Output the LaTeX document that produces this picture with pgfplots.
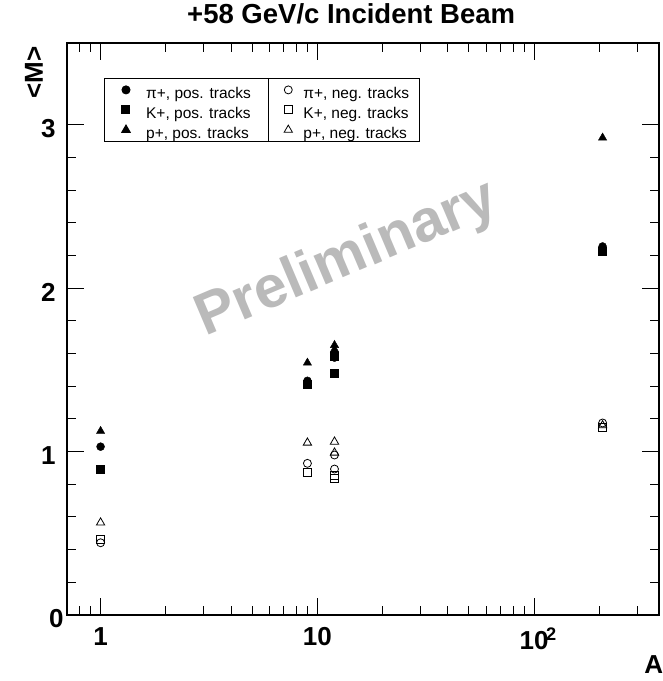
\documentclass[border=0pt]{standalone}
\usepackage{fontspec}
\setmainfont{Liberation Sans}
\usepackage{pgfplots}
\pgfplotsset{compat=1.18}
\begin{document}
\begin{tikzpicture}[x=1pt,y=1pt]
\useasboundingbox (0,0) rectangle (663,681);
\begin{axis}[
  at={(67pt,66pt)}, anchor=south west,
  scale only axis, width=592pt, height=572pt,
  xmode=log, log basis x=10,
  xmin=0.7, xmax=377, ymin=0, ymax=3.5,
  xtick={1,10,100}, xticklabels={1,10,10\rlap{\kern-2.5pt\textsuperscript{2}}},
  minor xtick={0.8,0.9,2,3,4,5,6,7,8,9,20,30,40,50,60,70,80,90,200,300},
  ytick={0,1,2,3}, yticklabels={0\hspace*{-8pt},1,2,3}, minor y tick num=4,
  tick align=inside,
  major tick length=17pt, minor tick length=9pt,
  every tick/.style={black, line width=1pt},
  axis line style={line width=1.6pt},
  /pgf/number format/assume math mode=true,
  ticklabel style={font=\fontsize{26}{28}\selectfont\bfseries},
  yticklabel style={xshift=-8pt, yshift=-4pt},
  xticklabel style={yshift=-9pt},
  title={+58 GeV/c Incident Beam},
  title style={font=\fontsize{27.5}{30}\selectfont\bfseries, at={(axis description cs:0.48,1)}, anchor=base, yshift=13pt},
  ylabel={\textless M\textgreater},
  ylabel style={font=\fontsize{26}{28}\selectfont\bfseries, at={(axis description cs:-0.056,1)}, anchor=east, rotate=0},
  xlabel={A},
  xlabel style={font=\fontsize{26}{28}\selectfont\bfseries, at={(axis description cs:1.013,-0.087)}, anchor=east},
  legend columns=2,
  legend cell align=left,
  legend image code/.code={\path (-11pt,0pt); \draw[#1] plot coordinates {(0pt,0pt)};},
  legend style={at={(axis description cs:0.0625,0.939)}, anchor=north west,
    draw=black, line width=1pt, font=\fontsize{15.5}{18}\selectfont,
    inner xsep=10pt, inner ysep=3pt, row sep=3pt,
    nodes={inner sep=0pt, text height=17pt, text depth=0pt},
    /tikz/column 1/.style={column sep=16pt},
    /tikz/column 2/.style={column sep=26pt},
    /tikz/column 3/.style={column sep=11pt}},
]
% positive tracks: filled, negative tracks: open
\addplot[only marks, mark=*, mark size=4pt, black] coordinates {
 (1,1.03) (9,1.433) (12,1.60) (12,1.575) (207,2.255)};
\addlegendentry{π+, pos. tracks}
\addplot[only marks, mark=o, mark size=4pt, black, line width=0.8pt] coordinates {
 (1,0.442) (9,0.928) (12,0.979) (12,0.893) (207,1.175)};
\addlegendentry{π+, neg. tracks}
\addplot[only marks, mark=square*, mark size=4pt, black] coordinates {
 (1,0.89) (9,1.41) (12,1.585) (12,1.48) (207,2.225)};
\addlegendentry{K+, pos. tracks}
\addplot[only marks, mark=square, mark size=4pt, black, line width=0.8pt] coordinates {
 (1,0.465) (9,0.87) (12,0.856) (12,0.836) (207,1.15)};
\addlegendentry{K+, neg. tracks}
\addplot[only marks, mark=triangle*, mark size=4.8pt, black] coordinates {
 (1,1.125) (9,1.543) (12,1.651) (12,1.625) (207,2.92)};
\addlegendentry{p+, pos. tracks}
\addplot[only marks, mark=triangle, mark size=4.8pt, black, line width=0.8pt] coordinates {
 (1,0.565) (9,1.054) (12,1.06) (12,0.993) (207,1.16)};
\addlegendentry{p+, neg. tracks}
\end{axis}
\draw[line width=1pt] (268,603) -- (268,540);
\node[rotate=23, text=black!27, font=\fontsize{59}{60}\selectfont\bfseries] at (347,421) {Preliminary};
\end{tikzpicture}
\end{document}
